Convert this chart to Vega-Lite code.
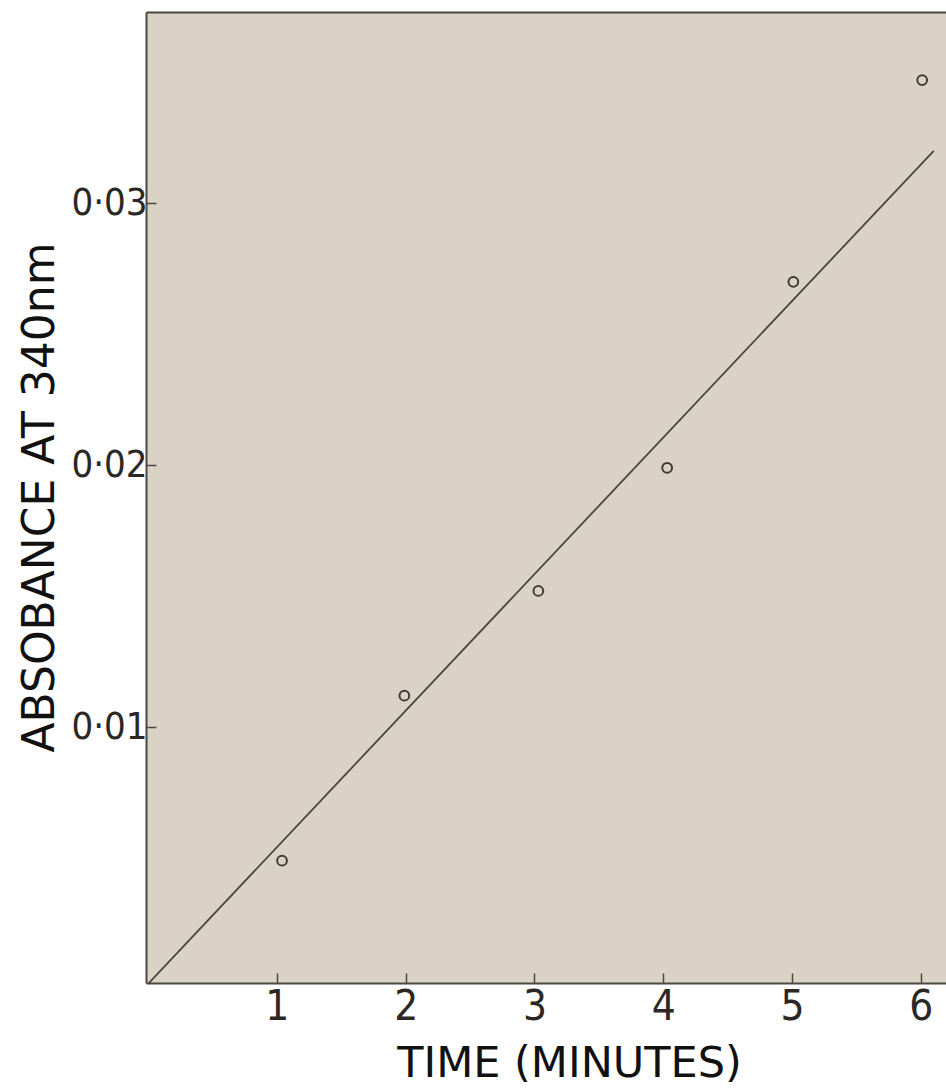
{
  "$schema": "https://vega.github.io/schema/vega-lite/v6.json",
  "autosize": {"type": "none"},
  "width": 800,
  "height": 971,
  "padding": {"left": 146, "top": 12, "right": 0, "bottom": 106},
  "background": "#ffffff",
  "config": {
    "view": {"fill": "#dad3c5", "stroke": null},
    "axis": {
      "domainColor": "#4d4742",
      "domainWidth": 2,
      "tickColor": "#4d4742",
      "tickWidth": 1.5,
      "tickSize": -10,
      "grid": false,
      "labelColor": "#2a2725",
      "titleColor": "#111111",
      "labelFont": "Liberation Sans Narrow, DejaVu Sans Condensed, DejaVu Sans",
      "labelFontSize": 40,
      "labelFontWeight": "normal",
      "titleFont": "DejaVu Sans",
      "titleFontWeight": "normal"
    }
  },
  "datasets": {
    "points": [
      {"time": 1.04, "absorbance": 0.0049},
      {"time": 1.99, "absorbance": 0.0112},
      {"time": 3.03, "absorbance": 0.0152},
      {"time": 4.03, "absorbance": 0.0199},
      {"time": 5.01, "absorbance": 0.0270},
      {"time": 6.01, "absorbance": 0.0347}
    ],
    "fit": [
      {"time": 0.0, "absorbance": 0.0002},
      {"time": 6.10, "absorbance": 0.0320}
    ]
  },
  "layer": [
    {
      "data": {"name": "fit"},
      "mark": {"type": "line", "color": "#4a4541", "strokeWidth": 1.8},
      "encoding": {
        "x": {
          "field": "time", "type": "quantitative",
          "scale": {"domain": [-0.016, 6.195], "nice": false, "zero": false},
          "axis": {
            "orient": "bottom",
            "values": [1, 2, 3, 4, 5, 6],
            "labelPadding": 13,
            "labelBaseline": "top",
            "labelFontSize": 42,
            "title": "TIME (MINUTES)",
            "titleFontSize": 43,
            "titleX": 423,
            "titleY": 93,
            "titleBaseline": "alphabetic",
            "titleAlign": "center"
          }
        },
        "y": {
          "field": "absorbance", "type": "quantitative",
          "scale": {"domain": [0.00023, 0.0373], "nice": false, "zero": false},
          "axis": {
            "orient": "left",
            "values": [0.01, 0.02, 0.03],
            "labelExpr": "replace(format(datum.value, '.2f'), '.', '·')",
            "labelPadding": 9,
            "labelFontSize": 38,
            "title": "ABSOBANCE  AT  340nm",
            "titleFontSize": 44,
            "titleAngle": -90,
            "titleX": -93,
            "titleY": 485,
            "titleAlign": "center",
            "titleBaseline": "alphabetic"
          }
        }
      }
    },
    {
      "data": {"name": "points"},
      "mark": {"type": "point", "shape": "circle", "filled": false, "size": 95, "stroke": "#3f3a37", "strokeWidth": 2, "opacity": 1},
      "encoding": {
        "x": {
          "field": "time", "type": "quantitative",
          "axis": {"orient": "top", "labels": false, "ticks": false, "title": null}
        },
        "y": {"field": "absorbance", "type": "quantitative"}
      }
    }
  ]
}
